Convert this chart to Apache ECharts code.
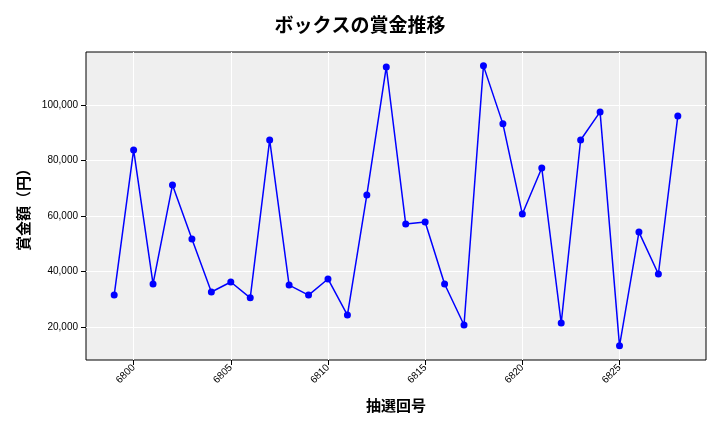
<!DOCTYPE html>
<html><head><meta charset="utf-8">
<script src="https://cdn.jsdelivr.net/npm/echarts@6/dist/echarts.min.js"></script>
<style>html,body{margin:0;padding:0;background:#fff}#c{width:720px;height:432px}</style>
</head><body><div id="c"></div>
<script>
var draws = [6799,6800,6801,6802,6803,6804,6805,6806,6807,6808,6809,6810,6811,6812,6813,6814,6815,6816,6817,6818,6819,6820,6821,6822,6823,6824,6825,6826,6827,6828];
var prizes = [31500,83800,35500,71200,51700,32600,36200,30500,87400,35100,31500,37300,24300,67600,113700,57100,57800,35500,20700,114100,93200,60700,77300,21400,87400,97500,13200,54200,39100,96000];
var xTicks = [6800,6805,6810,6815,6820,6825];
var yTicks = [20000,40000,60000,80000,100000];

var chart = echarts.init(document.getElementById('c'));
var font = '"Noto Sans CJK JP", sans-serif';
chart.setOption({
    animation: false,
    title: {text: 'ボックスの賞金推移', left: 'center', top: 10,
        textStyle: {fontFamily: font, fontSize: 19, fontWeight: 'bold', color: '#000'}},
    grid: {left: 86, right: 14, top: 52, bottom: 72, show: true, backgroundColor: '#efefef', borderColor: '#000', borderWidth: 1},
    xAxis: {
        type: 'value', min: 6797.55, max: 6829.45,
        name: '抽選回号', nameLocation: 'middle', nameGap: 38,
        nameTextStyle: {fontFamily: font, fontSize: 15, fontWeight: 'bold', color: '#000'},
        axisLine: {show: false},
        axisTick: {show: true, customValues: xTicks, lineStyle: {color: '#000'}},
        axisLabel: {customValues: xTicks, rotate: 45, fontSize: 10, color: '#000', margin: 6,
            formatter: function (v) { return String(v); }},
        splitLine: {show: true, lineStyle: {color: '#fff', width: 1}}
    },
    yAxis: {
        type: 'value', min: 8100, max: 119100,
        name: '賞金額（円）', nameLocation: 'middle', nameGap: 55,
        nameTextStyle: {fontFamily: font, fontSize: 15, fontWeight: 'bold', color: '#000'},
        axisLine: {show: false},
        axisTick: {show: true, customValues: yTicks, lineStyle: {color: '#000'}},
        axisLabel: {customValues: yTicks, fontSize: 10, color: '#000',
            formatter: function (v) { return v.toLocaleString('en-US'); }},
        splitLine: {show: true, lineStyle: {color: '#fff', width: 1}}
    },
    series: [{
        type: 'line',
        data: draws.map(function (d, i) { return [d, prizes[i]]; }),
        symbol: 'circle', symbolSize: 7,
        lineStyle: {color: '#0000ff', width: 1.5},
        itemStyle: {color: '#0000ff'}
    }]
});
</script></body></html>
